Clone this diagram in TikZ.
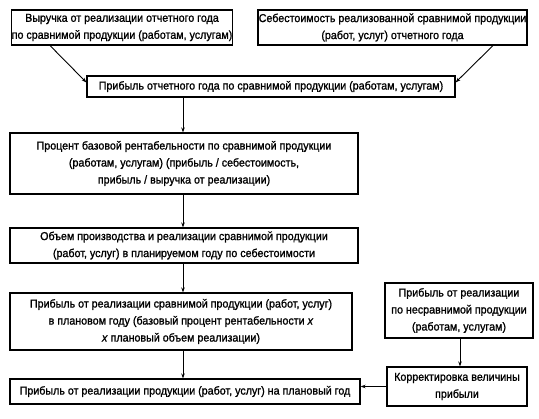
\documentclass[tikz,border=0pt]{standalone}
\usepackage{fontspec}
\setmainfont{Liberation Sans}[FakeBold=1.2,FakeStretch=0.93]
\usetikzlibrary{arrows.meta}
\begin{document}
\begin{tikzpicture}[x=1pt,y=-1pt,
  box/.style={draw,line width=1.1pt,inner sep=0pt,align=center,
    font=\fontsize{11.5}{17}\selectfont,anchor=center},
  arr/.style={line width=0.9pt,-{Stealth[length=5pt,width=3.5pt]}}]
\useasboundingbox (0,0) rectangle (539,419);
\node[box,minimum width=220pt,minimum height=35pt] (b1) at (122,27.5)
  {Выручка от реализации отчетного года\\по сравнимой продукции (работам, услугам)};
\node[box,minimum width=269pt,minimum height=35pt] (b2) at (392.5,27.5)
  {Себестоимость реализованной сравнимой продукции\\(работ, услуг) отчетного года};
\node[box,minimum width=368pt,minimum height=21pt] (b3) at (271,86.5)
  {Прибыль отчетного года по сравнимой продукции (работам, услугам)};
\node[box,minimum width=348pt,minimum height=61pt] (b4) at (184,163.5)
  {Процент базовой рентабельности по сравнимой продукции\\(работам, услугам) (прибыль / себестоимость,\\прибыль / выручка от реализации)};
\node[box,minimum width=348pt,minimum height=35pt] (b5) at (184,245.5)
  {Объем производства и реализации сравнимой продукции\\(работ, услуг) в планируемом году по себестоимости};
\node[box,minimum width=342pt,minimum height=57pt] (b6) at (181,321.5)
  {Прибыль от реализации сравнимой продукции (работ, услуг)\\в плановом году (базовый процент рентабельности \textit{x}\\\textit{x} плановый объем реализации)};
\node[box,minimum width=350pt,minimum height=25pt] (b7) at (185,391.5)
  {Прибыль от реализации продукции (работ, услуг) на плановый год};
\node[box,minimum width=148pt,minimum height=55pt] (b8) at (459,310.5)
  {Прибыль от реализации\\по несравнимой продукции\\(работам, услугам)};
\node[box,minimum width=140pt,minimum height=39pt] (b9) at (457,386.5)
  {Корректировка величины\\прибыли};
\coordinate (cx) at (183,0);
\coordinate (rx) at (460,0);
\coordinate (l1) at (50,0);
\coordinate (l2) at (493,0);
\draw[arr] (b1.south -| l1) -- ([yshift=4pt]b3.west);
\draw[arr] (b2.south -| l2) -- ([yshift=4pt]b3.east);
\draw[arr] (b3.south -| cx) -- (b4.north -| cx);
\draw[arr] (b4.south -| cx) -- (b5.north -| cx);
\draw[arr] (b5.south -| cx) -- (b6.north -| cx);
\draw[arr] (b6.south -| cx) -- (b7.north -| cx);
\draw[arr] (b8.south -| rx) -- (b9.north -| rx);
\draw[arr] (b9.west) -- (b7.east |- b9.west);
\end{tikzpicture}
\end{document}
